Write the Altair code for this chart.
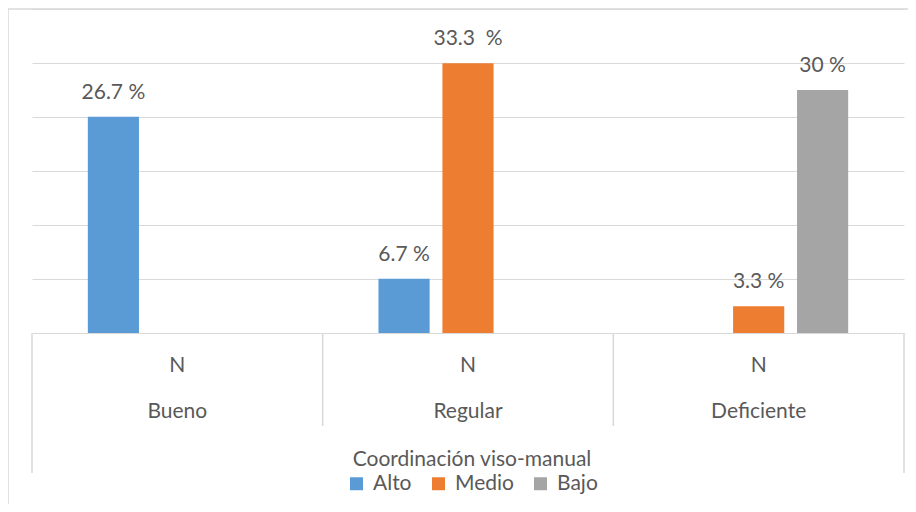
import altair as alt
import pandas as pd

categories = ["Bueno", "Regular", "Deficiente"]
series = ["Alto", "Medio", "Bajo"]
alto = [26.7, 6.7, 0.0]
medio = [0.0, 33.3, 3.3]
bajo = [0.0, 0.0, 30.0]
alto_labels = ["26.7 %", "6.7 %", ""]
medio_labels = ["", "33.3 \u00a0%", "3.3 %"]
bajo_labels = ["", "", "30 %"]
sub_label = "N"
colors = ["#5B9BD5", "#ED7D31", "#A5A5A5"]
grid_values = [0, 20 / 3, 40 / 3, 20, 80 / 3, 100 / 3, 40]
axis_title = "Coordinación viso-manual"

rows = []
for s, vals, labs in zip(series, [alto, medio, bajo], [alto_labels, medio_labels, bajo_labels]):
    for c, v, l in zip(categories, vals, labs):
        rows.append({"cat": c, "series": s, "value": v, "label": l})
df = pd.DataFrame(rows)
cat_df = pd.DataFrame({"cat": categories, "sub": [sub_label] * len(categories)})
one = pd.DataFrame({"k": [0]})

W, H = 872, 324
FONT = "Lato"
TXT = "#595959"
LINE = "#d9d9d9"
FS = 21

xscale = alt.Scale(domain=categories, paddingInner=0, paddingOuter=0)
xenc = alt.X("cat:N", sort=categories, axis=None, scale=xscale)
xoff = alt.XOffset("series:N", sort=series,
                   scale=alt.Scale(domain=series, paddingInner=0.2, paddingOuter=0.873))
yenc = alt.Y("value:Q", scale=alt.Scale(domain=[0, 40], nice=False, zero=True),
             axis=alt.Axis(values=grid_values, grid=True, gridColor=LINE, gridWidth=1,
                           labels=False, ticks=False, domain=False, title=None))

bars = alt.Chart(df).mark_bar().encode(
    x=xenc, xOffset=xoff, y=yenc,
    color=alt.Color("series:N", scale=alt.Scale(domain=series, range=colors),
                    legend=alt.Legend(orient="none", legendX=314, legendY=440,
                                      direction="horizontal", title=axis_title,
                                      titleAnchor="middle", titleFontSize=FS,
                                      titleFontWeight="normal", titleColor=TXT, titleFont=FONT,
                                      titleLimit=800, labelLimit=300,
                                      titlePadding=3, labelFont=FONT, labelFontSize=FS,
                                      labelColor=TXT, symbolType="square", symbolSize=169,
                                      symbolStrokeWidth=0, labelOffset=6, columnPadding=16,
                                      padding=0)),
)

labels = alt.Chart(df).transform_filter("datum.label != ''").mark_text(
    font=FONT, fontSize=FS, color=TXT, dy=-18, baseline="alphabetic"
).encode(x=xenc, xOffset=xoff, y=alt.Y("value:Q"), text="label:N")

sub_text = alt.Chart(cat_df).mark_text(font=FONT, fontSize=FS, color=TXT, baseline="alphabetic").encode(
    x=xenc, y=alt.value(363), text="sub:N")
cat_text = alt.Chart(cat_df).mark_text(font=FONT, fontSize=FS, color=TXT, baseline="alphabetic").encode(
    x=xenc, y=alt.value(409), text="cat:N")

inner_sep = alt.Chart(cat_df).transform_filter(
    alt.FieldOneOfPredicate(field="cat", oneOf=categories[1:])
).mark_rule(color=LINE, strokeWidth=1.5).encode(
    x=alt.X("cat:N", sort=categories, axis=None, scale=xscale, bandPosition=0),
    y=alt.value(324), y2=alt.value(417))
left_sep = alt.Chart(cat_df).transform_filter(
    alt.FieldEqualPredicate(field="cat", equal=categories[0])
).mark_rule(color=LINE, strokeWidth=1.5).encode(
    x=alt.X("cat:N", sort=categories, axis=None, scale=xscale, bandPosition=0),
    y=alt.value(324), y2=alt.value(464))
right_sep = alt.Chart(cat_df).transform_filter(
    alt.FieldEqualPredicate(field="cat", equal=categories[-1])
).mark_rule(color=LINE, strokeWidth=1.5).encode(
    x=alt.X("cat:N", sort=categories, axis=None, scale=xscale, bandPosition=1),
    y=alt.value(324), y2=alt.value(464))

border_v = alt.Chart(one).mark_rule(color=LINE, strokeWidth=1.5).encode(
    x=alt.value(-24), y=alt.value(0), y2=alt.value(503))
border_h = alt.Chart(one).mark_rule(color=LINE, strokeWidth=1.5).encode(
    x=alt.value(-24), x2=alt.value(884), y=alt.value(0))

chart = alt.layer(
    border_v, border_h, bars, labels, sub_text, cat_text, inner_sep, left_sep, right_sep
).properties(
    width=W, height=H,
    padding={"left": 24, "top": 1, "right": 4, "bottom": 171},
    autosize=alt.AutoSizeParams(type="none"),
    background="white",
).configure_view(stroke=None)

chart.save("out.html", embed_options={"renderer": "svg", "actions": False})
